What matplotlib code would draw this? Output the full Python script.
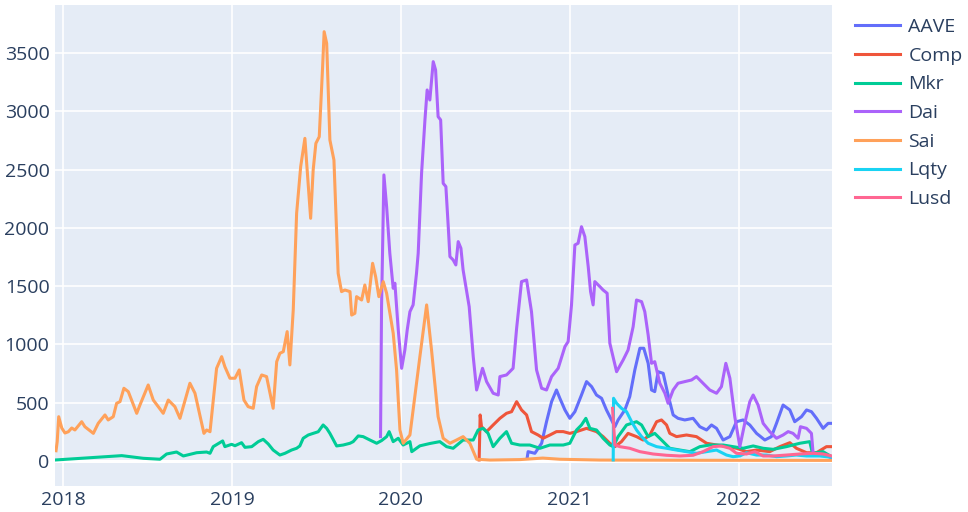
import matplotlib
matplotlib.use("Agg")
import matplotlib.pyplot as plt
import pandas as pd

plt.rcParams["font.family"] = ["Open Sans", "DejaVu Sans"]

# time as fractional year
aave_t = [2020.747, 2020.753, 2020.793, 2020.833, 2020.862, 2020.892, 2020.921, 2020.941, 2020.971,
          2021.000, 2021.030, 2021.069, 2021.099, 2021.129, 2021.158, 2021.188, 2021.217, 2021.247,
          2021.267, 2021.286, 2021.326, 2021.355, 2021.385, 2021.415, 2021.438, 2021.464, 2021.484,
          2021.503, 2021.523, 2021.553, 2021.582, 2021.612, 2021.641, 2021.681, 2021.730, 2021.770,
          2021.810, 2021.839, 2021.869, 2021.908, 2021.948, 2021.987, 2022.026, 2022.066, 2022.106,
          2022.155, 2022.194, 2022.224, 2022.263, 2022.303, 2022.332, 2022.372, 2022.402, 2022.431,
          2022.461, 2022.500, 2022.530, 2022.550]
aave_v = [23, 80, 66, 152, 337, 509, 609, 538, 438,
          366, 423, 566, 681, 638, 566, 538, 438, 352,
          294, 352, 438, 552, 781, 967, 967, 838, 609,
          595, 766, 752, 566, 395, 366, 352, 366, 294,
          266, 309, 280, 180, 209, 337, 352, 309, 237,
          180, 209, 323, 480, 438, 337, 380, 438, 423,
          366, 280, 323, 323]

comp_t = [2020.463, 2020.469, 2020.477, 2020.507, 2020.546, 2020.586, 2020.625, 2020.655, 2020.685,
          2020.714, 2020.744, 2020.773, 2020.812, 2020.842, 2020.882, 2020.921, 2020.961, 2021.000,
          2021.040, 2021.099, 2021.158, 2021.197, 2021.237, 2021.267, 2021.306, 2021.345, 2021.395,
          2021.434, 2021.474, 2021.514, 2021.543, 2021.573, 2021.592, 2021.632, 2021.691, 2021.750,
          2021.810, 2021.869, 2021.928, 2021.987, 2022.046, 2022.106, 2022.184, 2022.244, 2022.303,
          2022.342, 2022.402, 2022.461, 2022.520, 2022.550]
comp_v = [9, 395, 294, 252, 309, 366, 409, 423, 509,
          438, 395, 252, 223, 195, 223, 252, 252, 237,
          252, 280, 252, 209, 152, 123, 166, 237, 209,
          180, 223, 337, 352, 309, 237, 209, 223, 209,
          152, 137, 123, 109, 80, 94, 80, 123, 157,
          109, 71, 71, 123, 123]

mkr_t = [2017.957, 2018.316, 2018.346, 2018.474, 2018.573, 2018.612, 2018.671, 2018.711, 2018.790,
         2018.849, 2018.869, 2018.888, 2018.944, 2018.957, 2018.997, 2019.017, 2019.056, 2019.076,
         2019.116, 2019.155, 2019.184, 2019.214, 2019.243, 2019.283, 2019.313, 2019.352, 2019.382,
         2019.401, 2019.421, 2019.451, 2019.480, 2019.510, 2019.539, 2019.560, 2019.579, 2019.619,
         2019.658, 2019.698, 2019.717, 2019.747, 2019.776, 2019.816, 2019.856, 2019.885, 2019.915,
         2019.930, 2019.954, 2019.984, 2020.013, 2020.053, 2020.064, 2020.112, 2020.171, 2020.230,
         2020.270, 2020.309, 2020.368, 2020.428, 2020.457, 2020.487, 2020.516, 2020.546, 2020.586,
         2020.625, 2020.655, 2020.704, 2020.763, 2020.823, 2020.882, 2020.961, 2021.000, 2021.040,
         2021.069, 2021.095, 2021.119, 2021.158, 2021.197, 2021.237, 2021.257, 2021.286, 2021.336,
         2021.395, 2021.425, 2021.464, 2021.503, 2021.543, 2021.592, 2021.652, 2021.711, 2021.770,
         2021.829, 2021.908, 2021.967, 2022.026, 2022.086, 2022.145, 2022.204, 2022.283, 2022.362,
         2022.421, 2022.437, 2022.500, 2022.550]
mkr_v = [9, 43, 46, 23, 15, 60, 77, 43, 71,
         77, 66, 123, 172, 123, 143, 131, 157, 117,
         123, 166, 186, 146, 94, 51, 66, 94, 109,
         129, 195, 223, 237, 251, 309, 280, 237, 129,
         137, 152, 166, 215, 209, 180, 152, 175, 209,
         252, 166, 195, 137, 166, 80, 130, 150, 166,
         123, 109, 180, 180, 266, 280, 237, 123, 195,
         252, 152, 137, 137, 109, 137, 137, 152, 266,
         309, 366, 280, 266, 195, 137, 123, 209, 309,
         337, 309, 209, 237, 180, 109, 94, 80, 123,
         137, 137, 123, 109, 129, 109, 100, 123, 152,
         166, 66, 80, 37]

dai_t = [2019.879, 2019.885, 2019.899, 2019.915, 2019.934, 2019.954, 2019.964, 2019.984, 2020.004,
         2020.023, 2020.037, 2020.053, 2020.072, 2020.092, 2020.102, 2020.122, 2020.142, 2020.155,
         2020.171, 2020.191, 2020.205, 2020.220, 2020.235, 2020.250, 2020.266, 2020.280, 2020.290,
         2020.309, 2020.325, 2020.339, 2020.355, 2020.368, 2020.404, 2020.428, 2020.448, 2020.483,
         2020.507, 2020.546, 2020.576, 2020.586, 2020.625, 2020.664, 2020.685, 2020.714, 2020.744,
         2020.773, 2020.803, 2020.833, 2020.862, 2020.892, 2020.931, 2020.971, 2020.990, 2021.010,
         2021.030, 2021.049, 2021.069, 2021.089, 2021.109, 2021.123, 2021.138, 2021.148, 2021.178,
         2021.197, 2021.221, 2021.237, 2021.277, 2021.316, 2021.345, 2021.375, 2021.395, 2021.425,
         2021.444, 2021.464, 2021.484, 2021.503, 2021.533, 2021.563, 2021.582, 2021.612, 2021.641,
         2021.681, 2021.721, 2021.750, 2021.789, 2021.829, 2021.869, 2021.898, 2021.924, 2021.948,
         2021.977, 2022.007, 2022.036, 2022.066, 2022.086, 2022.115, 2022.145, 2022.184, 2022.224,
         2022.263, 2022.293, 2022.322, 2022.352, 2022.366, 2022.402, 2022.431, 2022.441, 2022.480,
         2022.520, 2022.550]
dai_v = [209, 1324, 2454, 2182, 1782, 1482, 1525, 1124, 795,
         952, 1124, 1281, 1339, 1610, 1782, 2468, 2926, 3183,
         3097, 3426, 3355, 2954, 2926, 2382, 2354, 2010, 1753,
         1725, 1682, 1882, 1825, 1639, 1324, 895, 609, 795,
         681, 581, 566, 724, 738, 795, 1139, 1539, 1553,
         1281, 781, 624, 609, 724, 795, 981, 1024, 1339,
         1853, 1868, 2010, 1925, 1667, 1453, 1339, 1539, 1496,
         1467, 1439, 1010, 766, 867, 952, 1152, 1381, 1367,
         1281, 1081, 838, 852, 667, 581, 495, 609, 667,
         681, 695, 724, 667, 609, 581, 638, 838, 710,
         380, 123, 323, 509, 566, 480, 323, 252, 195,
         223, 252, 237, 195, 294, 280, 237, 66, 60,
         51, 23]

sai_t = [2017.957, 2017.964, 2017.973, 2017.991, 2018.010, 2018.030, 2018.050, 2018.069, 2018.109,
         2018.128, 2018.178, 2018.207, 2018.247, 2018.266, 2018.296, 2018.316, 2018.336, 2018.359,
         2018.385, 2018.435, 2018.454, 2018.503, 2018.533, 2018.592, 2018.622, 2018.661, 2018.691,
         2018.750, 2018.780, 2018.833, 2018.849, 2018.869, 2018.908, 2018.938, 2018.957, 2018.987,
         2019.017, 2019.042, 2019.070, 2019.095, 2019.125, 2019.145, 2019.175, 2019.204, 2019.243,
         2019.264, 2019.283, 2019.303, 2019.326, 2019.342, 2019.362, 2019.382, 2019.406, 2019.431,
         2019.465, 2019.480, 2019.496, 2019.516, 2019.536, 2019.545, 2019.560, 2019.579, 2019.603,
         2019.628, 2019.648, 2019.668, 2019.698, 2019.708, 2019.727, 2019.737, 2019.767, 2019.786,
         2019.806, 2019.832, 2019.850, 2019.869, 2019.895, 2019.915, 2019.954, 2019.974, 2019.994,
         2020.013, 2020.053, 2020.072, 2020.112, 2020.152, 2020.181, 2020.220, 2020.250, 2020.290,
         2020.329, 2020.368, 2020.408, 2020.448, 2020.527, 2020.705, 2020.840, 2020.941, 2021.178,
         2021.770, 2022.550]
sai_v = [88, 165, 380, 283, 240, 251, 283, 266, 337,
         294, 237, 323, 395, 352, 380, 495, 509, 624,
         595, 409, 480, 652, 523, 409, 523, 466, 366,
         667, 581, 237, 266, 251, 795, 895, 809, 710,
         710, 781, 523, 466, 452, 638, 738, 724, 452,
         852, 924, 938, 1110, 824, 1296, 2125, 2525, 2768,
         2082, 2496, 2725, 2782, 3383, 3683, 3583, 2754, 2582,
         1610, 1453, 1467, 1453, 1252, 1267, 1410, 1381, 1510,
         1367, 1696, 1581, 1410, 1539, 1439, 1096, 781, 266,
         152, 223, 438, 895, 1339, 952, 380, 195, 152,
         180, 209, 152, 15, 8, 12, 25, 15, 8,
         6, 5]

lqty_t = [2021.257, 2021.259, 2021.277, 2021.306, 2021.336, 2021.366, 2021.395, 2021.425, 2021.464,
          2021.514, 2021.573, 2021.632, 2021.691, 2021.750, 2021.810, 2021.869, 2021.928, 2021.967,
          2022.007, 2022.046, 2022.106, 2022.165, 2022.224, 2022.283, 2022.342, 2022.402, 2022.480,
          2022.550]
lqty_v = [9, 538, 495, 452, 423, 337, 266, 209, 152,
          123, 109, 94, 80, 66, 80, 94, 51, 37,
          43, 71, 51, 51, 37, 43, 51, 43, 43,
          32]

lusd_t = [2021.253, 2021.267, 2021.296, 2021.355, 2021.415, 2021.493, 2021.573, 2021.652, 2021.730,
          2021.789, 2021.849, 2021.898, 2021.948, 2021.987, 2022.046, 2022.096, 2022.145, 2022.204,
          2022.283, 2022.362, 2022.441, 2022.500, 2022.550]
lusd_v = [452, 137, 123, 109, 80, 60, 49, 43, 49,
          80, 123, 129, 109, 66, 60, 80, 43, 43,
          51, 60, 66, 60, 43]

names = ["AAVE", "Comp", "Mkr", "Dai", "Sai", "Lqty", "Lusd"]
colors = ["#636EFA", "#EF553B", "#00CC96", "#AB63FA", "#FFA15A", "#19D3F3", "#FF6692"]
series = [(aave_t, aave_v), (comp_t, comp_v), (mkr_t, mkr_v), (dai_t, dai_v),
          (sai_t, sai_v), (lqty_t, lqty_v), (lusd_t, lusd_v)]
year_ticks = [2018, 2019, 2020, 2021, 2022]


def to_dates(t):
    base = pd.Timestamp("2018-01-01")
    return [base + pd.Timedelta(days=(x - 2018) * 365.25) for x in t]


fig = plt.figure(figsize=(9.68, 5.12), dpi=100)
ax = fig.add_axes([55 / 968, 1 - 485.7 / 512, 776.7 / 968, 480.7 / 512])
ax.set_facecolor("#E5ECF6")
for s in ax.spines.values():
    s.set_visible(False)

handles = []
for (t, v), name, c in zip(series, names, colors):
    h, = ax.plot(to_dates(t), v, color=c, lw=2.2, label=name, zorder=3)
    handles.append(h)

ax.set_xlim(to_dates([2017.951])[0], to_dates([2022.551])[0])
ax.set_ylim(-212, 3912)
ax.set_yticks(range(0, 3501, 500))
ax.set_xticks(to_dates(year_ticks))
ax.set_xticklabels([str(y) for y in year_ticks])
ax.set_axisbelow(True)
ax.grid(color="white", lw=1.2)
ax.axhline(0, color="white", lw=2.2, zorder=1)
ax.tick_params(length=0, labelsize=14, labelcolor="#2a3f5f", pad=4)

fig.legend(handles, names, loc="upper left", bbox_to_anchor=(855 / 968, 1 - 18 / 512),
           frameon=False, fontsize=14, handlelength=2.3, handletextpad=0.45,
           labelspacing=0.55, borderpad=0, borderaxespad=0, labelcolor="#2a3f5f")

fig.savefig("out.png", dpi=100)
